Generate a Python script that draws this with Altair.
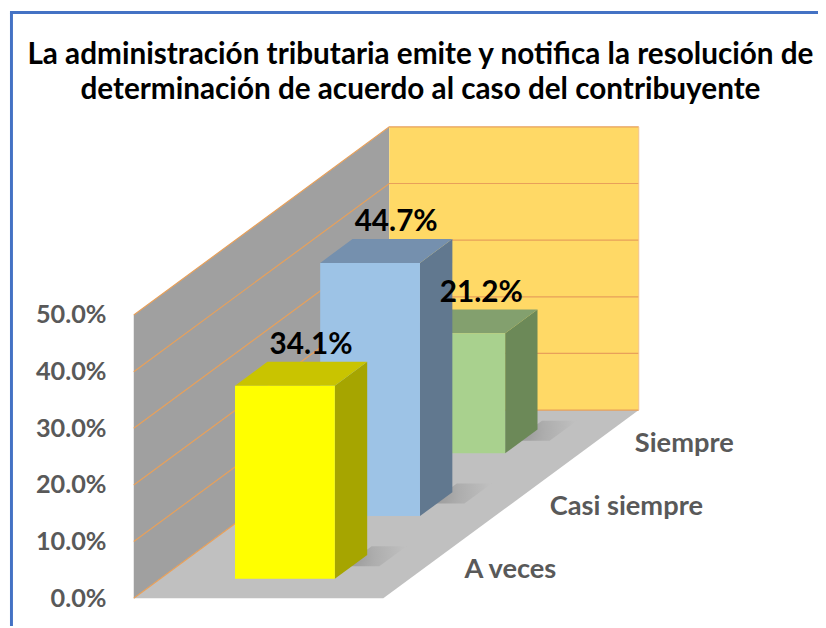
import altair as alt
import pandas as pd

# ---------------- data ----------------
categories = ["A veces", "Casi siempre", "Siempre"]
values = [0.341, 0.447, 0.212]
y_ticks = [0.0, 0.1, 0.2, 0.3, 0.4, 0.5]
title_lines = [
    "La administración tributaria emite y notifica la resolución de",
    "determinación de acuerdo al caso del contribuyente",
]

# ---------------- styles / projection ----------------
PX_X = 252          # pixels per unit of floor width
PX_Y = 572          # pixels per 100 %
DEPTH_PX_X = 258    # horizontal shift of the full depth
DEPTH_PX_Y = 190    # vertical shift of the full depth
N = len(categories)
AX = DEPTH_PX_X / PX_X / N
AY = DEPTH_PX_Y / PX_Y / N
YMAX = max(y_ticks)
BAR_W = 0.40
BAR_D = 0.38

FONT = "Lato"
GRID = "#E8A05A"
face_colors = {
    "A veces": ("#FFFF00", "#C9C400", "#A6A500"),
    "Casi siempre": ("#9DC3E6", "#7590AE", "#61788F"),
    "Siempre": ("#A9D18E", "#83A06E", "#6C8958"),
}

X_MAX = 1 + N * AX
Y_MAX = YMAX + N * AY
W = X_MAX * PX_X
H = Y_MAX * PX_Y


def proj(x, v, z):
    return x + z * AX, v + z * AY


xscale = alt.Scale(domain=[0, X_MAX], nice=False, zero=False)
yscale = alt.Scale(domain=[0, Y_MAX], nice=False, zero=False)
yaxis = alt.Axis(
    values=y_ticks, format=".1%", title=None, domain=False, ticks=False,
    tickSize=0, grid=False, labelPadding=28, labelFont=FONT,
    labelFontSize=25.5, labelFontWeight="bold", labelColor="#595959",
    labelFlush=False, labelOverlap=False,
)


def X(f):
    return alt.X(f, type="quantitative", scale=xscale, axis=None)


def Y(f):
    return alt.Y(f, type="quantitative", scale=yscale, axis=yaxis)


layers = []

# side wall (left)
side = pd.DataFrame([
    {"x": proj(0, 0, z)[0], "y": proj(0, 0, z)[1], "y2": proj(0, YMAX, z)[1]}
    for z in (0, N)
])
layers.append(alt.Chart(side).mark_area(orient="vertical", color="#A0A0A0")
              .encode(x=X("x"), y=Y("y"), y2=alt.Y2("y2")))

# back wall
bx0, by0 = proj(0, 0, N)
bx1, by1 = proj(1, YMAX, N)
back = pd.DataFrame([{"x": bx0, "x2": bx1, "y": by0, "y2": by1}])
layers.append(alt.Chart(back).mark_rect(color="#FFD966")
              .encode(x=X("x"), x2=alt.X2("x2"), y=Y("y"), y2=alt.Y2("y2")))

# floor
floor = pd.DataFrame([
    {"y": proj(0, 0, z)[1], "x": proj(0, 0, z)[0], "x2": proj(1, 0, z)[0]}
    for z in (0, N)
])
layers.append(alt.Chart(floor).mark_area(orient="horizontal", color="#C0C0C0")
              .encode(y=Y("y"), x=X("x"), x2=alt.X2("x2")))

# gridlines on side and back walls
grid_rows = []
for t in y_ticks:
    for k, (gx, gz) in enumerate([(0, 0), (0, N), (1, N)]):
        px, py = proj(gx, t, gz)
        grid_rows.append({"x": px, "y": py, "tick": t, "k": k})
grid = pd.DataFrame(grid_rows)
layers.append(alt.Chart(grid).mark_line(color=GRID, strokeWidth=1.2)
              .encode(x=X("x"), y=Y("y"), detail="tick:N", order="k:Q"))

# back wall right edge
edge = pd.DataFrame([{"x": proj(1, v, N)[0], "y": proj(1, v, N)[1], "k": i}
                     for i, v in enumerate((0, YMAX))])
layers.append(alt.Chart(edge).mark_line(color="#F4C38F", strokeWidth=1)
              .encode(x=X("x"), y=Y("y"), order="k:Q"))

# soft floor shadows at the back-right foot of each bar
shadow_fill = alt.Gradient(
    gradient="radial",
    stops=[alt.GradientStop(color="#959595", offset=0),
           alt.GradientStop(color="#ADADAD", offset=0.45),
           alt.GradientStop(color="#C0C0C0", offset=1)],
    x1=0.05, y1=0.5, r1=0, x2=0.05, y2=0.5, r2=0.95)
for i in range(N):
    x1 = 0.5 + BAR_W / 2
    zb = i + 0.5 + BAR_D / 2
    shdf = pd.DataFrame([
        {"y": proj(x1, 0, z)[1], "x": proj(x1 - 0.03, 0, z)[0], "x2": proj(x1 + 0.11, 0, z)[0]}
        for z in (zb - 0.18, zb + 0.14)
    ])
    layers.append(alt.Chart(shdf).mark_area(orient="horizontal", color=shadow_fill)
                  .encode(y=Y("y"), x=X("x"), x2=alt.X2("x2")))

# bars, back to front
for i in reversed(range(N)):
    cat, val = categories[i], values[i]
    front_c, top_c, side_c = face_colors[cat]
    x0, x1 = 0.5 - BAR_W / 2, 0.5 + BAR_W / 2
    zf, zb = i + 0.5 - BAR_D / 2, i + 0.5 + BAR_D / 2
    # right side face
    sdf = pd.DataFrame([
        {"x": proj(x1, 0, z)[0], "y": proj(x1, 0, z)[1], "y2": proj(x1, val, z)[1]}
        for z in (zf, zb)
    ])
    layers.append(alt.Chart(sdf).mark_area(orient="vertical", color=side_c)
                  .encode(x=X("x"), y=Y("y"), y2=alt.Y2("y2")))
    # top face
    tdf = pd.DataFrame([
        {"y": proj(x0, val, z)[1], "x": proj(x0, val, z)[0], "x2": proj(x1, val, z)[0]}
        for z in (zf, zb)
    ])
    layers.append(alt.Chart(tdf).mark_area(orient="horizontal", color=top_c)
                  .encode(y=Y("y"), x=X("x"), x2=alt.X2("x2")))
    # front face
    fx0, fy0 = proj(x0, 0, zf)
    fx1, fy1 = proj(x1, val, zf)
    fdf = pd.DataFrame([{"x": fx0, "x2": fx1, "y": fy0, "y2": fy1}])
    layers.append(alt.Chart(fdf).mark_rect(color=front_c)
                  .encode(x=X("x"), x2=alt.X2("x2"), y=Y("y"), y2=alt.Y2("y2")))

# value labels
lab = pd.DataFrame([
    {"x": proj(0.5, v, i + 0.5)[0], "y": proj(0.5, v, i + 0.5)[1], "value": v}
    for i, v in enumerate(values)
])
layers.append(alt.Chart(lab).mark_text(
    font=FONT, fontSize=30, fontWeight="bold", color="black",
    baseline="alphabetic", align="center", dx=10, dy=-20)
    .encode(x=X("x"), y=Y("y"), text=alt.Text("value:Q", format=".1%")))

# category labels along the depth axis
cl = pd.DataFrame([
    {"x": proj(1, 0, i + 0.5)[0], "y": proj(1, 0, i + 0.5)[1], "cat": c}
    for i, c in enumerate(categories)
])
layers.append(alt.Chart(cl).mark_text(
    font=FONT, fontSize=27.5, fontWeight="bold", color="#595959",
    baseline="middle", align="left", dx=39, dy=3)
    .encode(x=X("x"), y=Y("y"), text="cat:N"))

# blue frame
BLUE = "#4472C4"
frame_df = pd.DataFrame({"k": [0]})
layers.append(alt.Chart(frame_df).mark_rule(color=BLUE, strokeWidth=3)
              .encode(x=alt.value(-123.5), y=alt.value(-115.5), y2=alt.value(H + 30)))
layers.append(alt.Chart(frame_df).mark_rule(color=BLUE, strokeWidth=3)
              .encode(x=alt.value(-125), x2=alt.value(W + 200), y=alt.value(-115.5)))

PAD_L, PAD_T = 127, 117
chart = alt.layer(*layers).properties(
    width=W, height=H,
    autosize=alt.AutoSizeParams(type="none"),
    padding={"left": PAD_L, "top": PAD_T, "right": 818 - PAD_L - W, "bottom": 618 - PAD_T - H},
    title=alt.TitleParams(
        text=title_lines, font=FONT, fontSize=30, fontWeight="bold", color="black",
        anchor="middle", frame="group", baseline="alphabetic", offset=-119,
        dx=34.5, lineHeight=35),
    background="white",
).configure_view(stroke=None)

chart.save("out.html", embed_options={"renderer": "svg", "actions": False})
